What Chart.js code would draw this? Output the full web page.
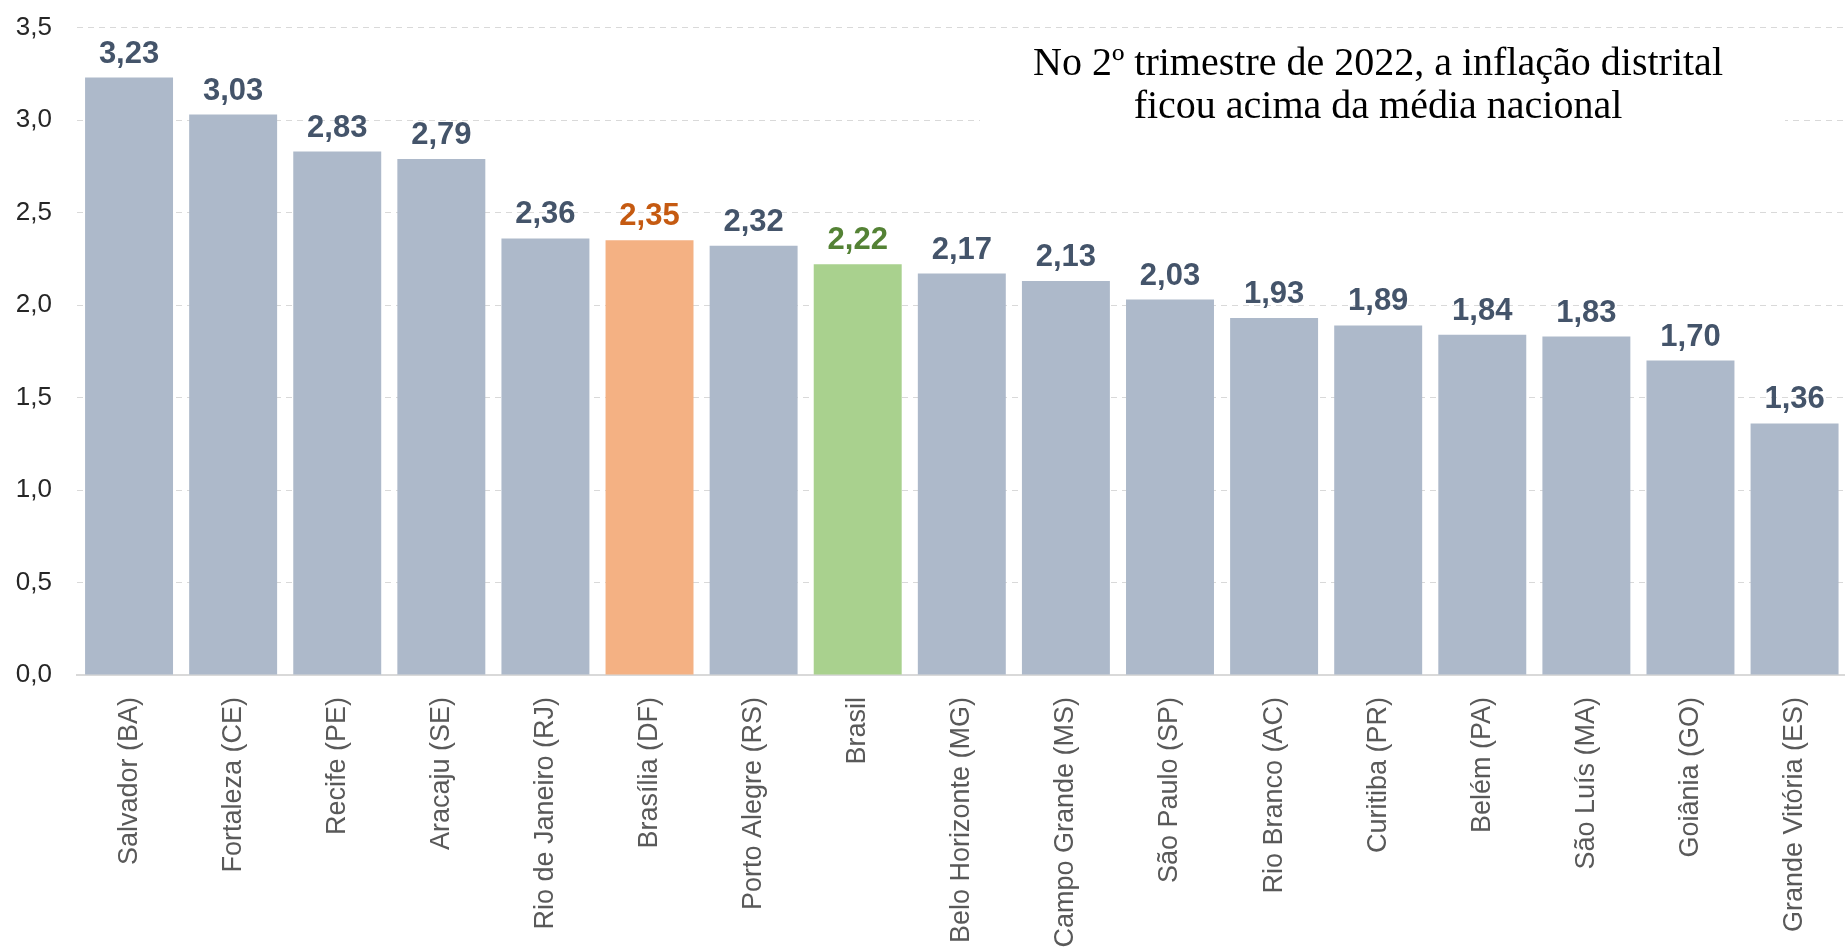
<!DOCTYPE html>
<html>
<head>
<meta charset="utf-8">
<script src="https://cdn.jsdelivr.net/npm/chart.js@4"></script>
<style>
  html, body { margin: 0; padding: 0; background: #fff; overflow: hidden; }
  #wrap { width: 1845px; height: 950px; overflow: hidden; }
  #ipcaChart { display: block; margin-top: -13px; }
</style>
</head>
<body>
<div id="wrap"><canvas id="ipcaChart" width="1849" height="963"></canvas></div>
<script>
const categories = ['Salvador (BA)', 'Fortaleza (CE)', 'Recife (PE)', 'Aracaju (SE)', 'Rio de Janeiro (RJ)',
  'Brasília (DF)', 'Porto Alegre (RS)', 'Brasil', 'Belo Horizonte (MG)', 'Campo Grande (MS)', 'São Paulo (SP)',
  'Rio Branco (AC)', 'Curitiba (PR)', 'Belém (PA)', 'São Luís (MA)', 'Goiânia (GO)', 'Grande Vitória (ES)'];
const values = [3.23, 3.03, 2.83, 2.79, 2.36, 2.35, 2.32, 2.22, 2.17, 2.13, 2.03, 1.93, 1.89, 1.84, 1.83, 1.70, 1.36];
const yTicks = [0, 0.5, 1, 1.5, 2, 2.5, 3, 3.5];
const titleLines = ['No 2º trimestre de 2022, a inflação distrital', 'ficou acima da média nacional'];

const barColor = { 'Brasília (DF)': '#F4B183', 'Brasil': '#A9D18E' };
const labelColor = { 'Brasília (DF)': '#C55A11', 'Brasil': '#548235' };

const fmt = (v, d) => v.toFixed(d).replace('.', ',');

// canvas is pulled up 13px, so page y = canvas y - 13
const SHIFT = 13;

// white box with the note, drawn over the grid but under the bars
const notePlugin = {
  id: 'note',
  beforeDatasetsDraw(chart) {
    const ctx = chart.ctx;
    ctx.save();
    ctx.fillStyle = '#fff';
    ctx.fillRect(980, 34 + SHIFT, 805, 110);
    ctx.fillStyle = '#000';
    ctx.font = '40px "Liberation Serif"';
    ctx.textAlign = 'center';
    ctx.textBaseline = 'alphabetic';
    titleLines.forEach((t, i) => ctx.fillText(t, 1378, 75 + SHIFT + i * 43));
    ctx.restore();
  }
};

const valueLabels = {
  id: 'valueLabels',
  afterDatasetsDraw(chart) {
    const ctx = chart.ctx;
    const meta = chart.getDatasetMeta(0);
    ctx.save();
    ctx.font = 'bold 31px "Liberation Sans"';
    ctx.textAlign = 'center';
    ctx.textBaseline = 'alphabetic';
    meta.data.forEach((bar, i) => {
      ctx.fillStyle = labelColor[categories[i]] || '#44546A';
      ctx.fillText(fmt(values[i], 2), bar.x, bar.y - 15);
    });
    ctx.restore();
  }
};

const ctx = document.getElementById('ipcaChart').getContext('2d');
new Chart(ctx, {
  type: 'bar',
  data: {
    labels: categories,
    datasets: [{
      data: values,
      backgroundColor: categories.map(c => barColor[c] || '#ADB9CA'),
      barPercentage: 0.845,
      categoryPercentage: 1
    }]
  },
  options: {
    responsive: false,
    animation: false,
    devicePixelRatio: 1,
    layout: { padding: { top: 1, right: 1, left: 0, bottom: 0 } },
    plugins: {
      legend: { display: false },
      tooltip: { enabled: false }
    },
    scales: {
      x: {
        grid: { display: false, drawTicks: false },
        border: { display: true, color: '#D9D9D9', width: 2 },
        ticks: {
          autoSkip: false,
          minRotation: 90,
          maxRotation: 90,
          padding: 22,
          color: '#595959',
          font: { family: '"Liberation Sans"', size: 27 }
        },
        afterFit(scale) { scale.height = 275; }
      },
      y: {
        min: 0,
        max: 3.5,
        afterBuildTicks(scale) { scale.ticks = yTicks.map(v => ({ value: v })); },
        grid: { color: '#D9D9D9', lineWidth: 1, drawTicks: false },
        border: { display: false, dash: [6, 5] },
        ticks: {
          padding: 25,
          color: '#262626',
          font: { family: '"Liberation Sans"', size: 26 },
          callback: v => fmt(v, 1)
        },
        afterFit(scale) { scale.width = 77; }
      }
    }
  },
  plugins: [notePlugin, valueLabels]
});
</script>
</body>
</html>
